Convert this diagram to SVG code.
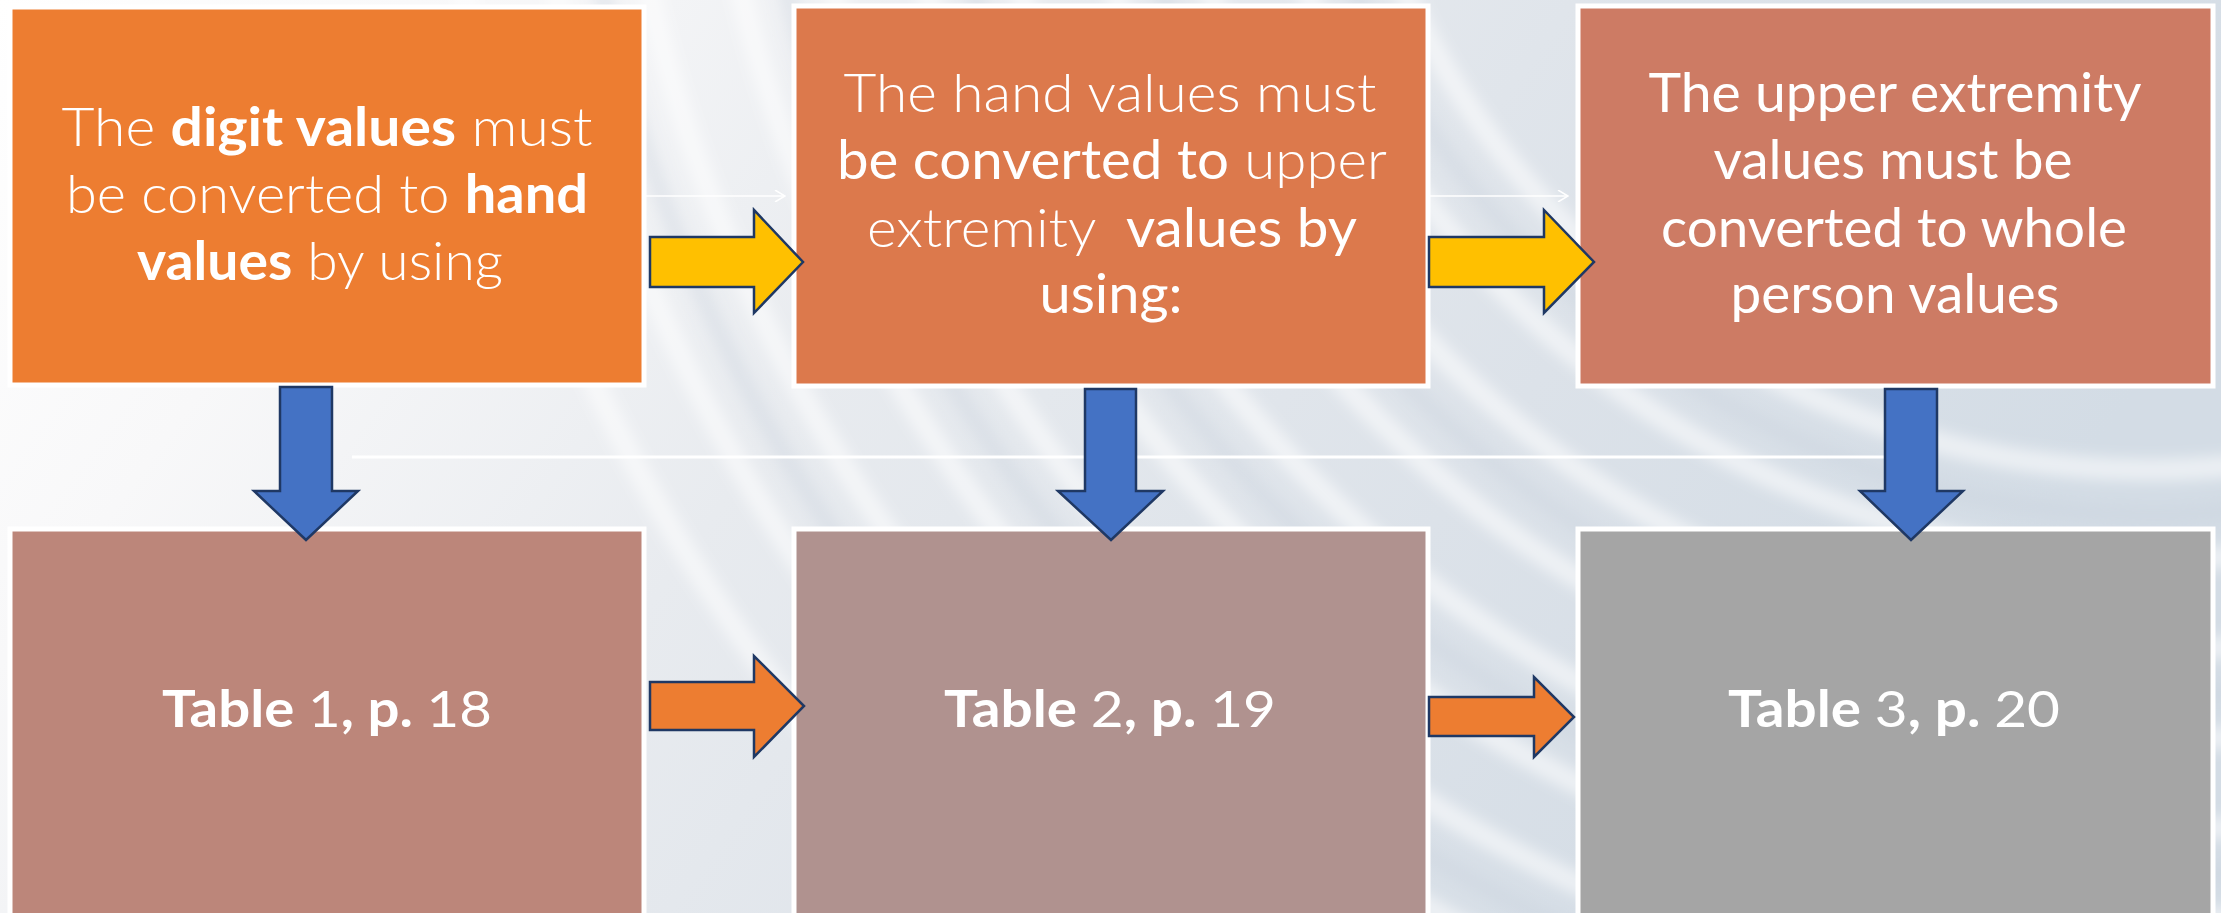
<svg xmlns="http://www.w3.org/2000/svg" width="2221" height="913" viewBox="0 0 2221 913">
<defs>
<linearGradient id="bg" x1="0" y1="0" x2="1" y2="0.3">
<stop offset="0" stop-color="#ffffff"/>
<stop offset="0.2" stop-color="#f8f8f9"/>
<stop offset="0.45" stop-color="#e8ebef"/>
<stop offset="0.75" stop-color="#dce2e9"/>
<stop offset="1" stop-color="#d3dce5"/>
</linearGradient>
<filter id="soft" x="-10%" y="-10%" width="120%" height="120%">
<feGaussianBlur stdDeviation="7"/>
</filter>
<marker id="chev" viewBox="0 0 12 12" refX="11" refY="6" markerWidth="12" markerHeight="12" markerUnits="userSpaceOnUse" orient="auto">
<path d="M1,0 L11,6 L1,12" fill="none" stroke="#ffffff" stroke-width="1.5"/>
</marker>
</defs>
<style>
.box{stroke:#ffffff;stroke-width:5}
.arrow{stroke:#1f3864;stroke-width:2.5;stroke-linejoin:miter}
.t{font-family:Lato,"Open Sans","Liberation Sans",sans-serif;fill:#ffffff;text-anchor:middle}
.lt{font-size:54px;font-weight:300}
.rg{font-size:54px;font-weight:400}
.tb{font-size:51px;font-weight:700}
.b{font-weight:700}
.n{font-weight:400}
.arc{fill:none;stroke:#ffffff;stroke-opacity:0.55;stroke-width:22}
.arcd{fill:none;stroke:#c9d2dc;stroke-opacity:0.35;stroke-width:18}
</style>
<rect x="0" y="0" width="2221" height="913" fill="url(#bg)"/>
<g id="background-arcs" filter="url(#soft)">
<circle class="arcd" cx="2150" cy="-350" r="865"/>
<circle class="arcd" cx="2150" cy="-350" r="1045"/>
<circle class="arcd" cx="2150" cy="-350" r="1225"/>
<circle class="arcd" cx="2150" cy="-350" r="1405"/>
<circle class="arcd" cx="2150" cy="-350" r="1585"/>
<circle class="arc" cx="2150" cy="-350" r="820"/>
<circle class="arc" cx="2150" cy="-350" r="910"/>
<circle class="arc" cx="2150" cy="-350" r="1000"/>
<circle class="arc" cx="2150" cy="-350" r="1090"/>
<circle class="arc" cx="2150" cy="-350" r="1180"/>
<circle class="arc" cx="2150" cy="-350" r="1270"/>
<circle class="arc" cx="2150" cy="-350" r="1360"/>
<circle class="arc" cx="2150" cy="-350" r="1450"/>
<circle class="arc" cx="2150" cy="-350" r="1540"/>
<circle class="arc" cx="2150" cy="-350" r="1630"/>
<circle class="arc" cx="2150" cy="-350" r="1720"/>
</g>
<g id="connectors">
<line x1="644" y1="196" x2="785" y2="196" stroke="#ffffff" stroke-width="1.5" marker-end="url(#chev)"/>
<line x1="1429" y1="196" x2="1568" y2="196" stroke="#ffffff" stroke-width="1.5" marker-end="url(#chev)"/>
<line x1="352" y1="457" x2="1885" y2="457" stroke="#ffffff" stroke-width="3"/>
</g>
<g id="node-digit">
<rect class="box" x="10" y="7" width="634" height="378" fill="#ed7d31"/>
<text class="t lt" x="327" y="146" textLength="531" lengthAdjust="spacingAndGlyphs">The <tspan class="b">digit values</tspan> must</text>
<text class="t lt" x="327" y="213" textLength="522" lengthAdjust="spacingAndGlyphs">be converted to <tspan class="b">hand</tspan></text>
<text class="t lt" x="320" y="280" textLength="366" lengthAdjust="spacingAndGlyphs"><tspan class="b">values</tspan> by using</text>
</g>
<g id="node-hand">
<rect class="box" x="794" y="6" width="634" height="380" fill="#dc794c"/>
<text class="t lt" x="1110" y="112" textLength="533" lengthAdjust="spacingAndGlyphs">The hand values must</text>
<text class="t lt" x="1112" y="179" textLength="550" lengthAdjust="spacingAndGlyphs"><tspan class="n">be converted to</tspan> upper</text>
<text class="t lt" x="1112" y="247" textLength="490" lengthAdjust="spacingAndGlyphs" xml:space="preserve">extremity  <tspan class="n">values by</tspan></text>
<text class="t rg" x="1111" y="313" textLength="143" lengthAdjust="spacingAndGlyphs">using:</text>
</g>
<g id="node-upper">
<rect class="box" x="1578" y="6" width="635" height="380" fill="#cd7b64"/>
<text class="t rg" x="1895" y="112" textLength="493" lengthAdjust="spacingAndGlyphs">The upper extremity</text>
<text class="t rg" x="1893" y="179" textLength="359" lengthAdjust="spacingAndGlyphs">values must be</text>
<text class="t rg" x="1894" y="247" textLength="466" lengthAdjust="spacingAndGlyphs">converted to whole</text>
<text class="t rg" x="1895" y="313" textLength="329" lengthAdjust="spacingAndGlyphs">person values</text>
</g>
<g id="node-table1">
<rect class="box" x="10" y="529" width="634" height="400" fill="#bc867a"/>
<text class="t tb" x="327" y="727" textLength="330" lengthAdjust="spacingAndGlyphs">Table <tspan class="n">1</tspan>, p. <tspan class="n">18</tspan></text>
</g>
<g id="node-table2">
<rect class="box" x="794" y="529" width="634" height="400" fill="#b0928f"/>
<text class="t tb" x="1110" y="727" textLength="332" lengthAdjust="spacingAndGlyphs">Table <tspan class="n">2</tspan>, p. <tspan class="n">19</tspan></text>
</g>
<g id="node-table3">
<rect class="box" x="1578" y="529" width="635" height="400" fill="#a5a5a5"/>
<text class="t tb" x="1894" y="727" textLength="332" lengthAdjust="spacingAndGlyphs">Table <tspan class="n">3</tspan>, p. <tspan class="n">20</tspan></text>
</g>
<g id="arrows">
<polygon class="arrow" fill="#ffc000" points="650,237 754,237 754,210 803,262 754,313 754,287 650,287"/>
<polygon class="arrow" fill="#ffc000" points="1429,237 1544,237 1544,210 1594,262 1544,313 1544,287 1429,287"/>
<polygon class="arrow" fill="#ed7d31" points="650,682 754,682 754,656 804,706 754,757 754,730 650,730"/>
<polygon class="arrow" fill="#ed7d31" points="1429,697 1534,697 1534,677 1574,717 1534,757 1534,736 1429,736"/>
<polygon class="arrow" fill="#4472c4" points="280,387 332,387 332,491 358,491 306,540 254,491 280,491"/>
<polygon class="arrow" fill="#4472c4" points="1085,389 1136,389 1136,491 1163,491 1111,540 1058,491 1085,491"/>
<polygon class="arrow" fill="#4472c4" points="1885,389 1937,389 1937,491 1963,491 1911,540 1860,491 1885,491"/>
</g>
</svg>
